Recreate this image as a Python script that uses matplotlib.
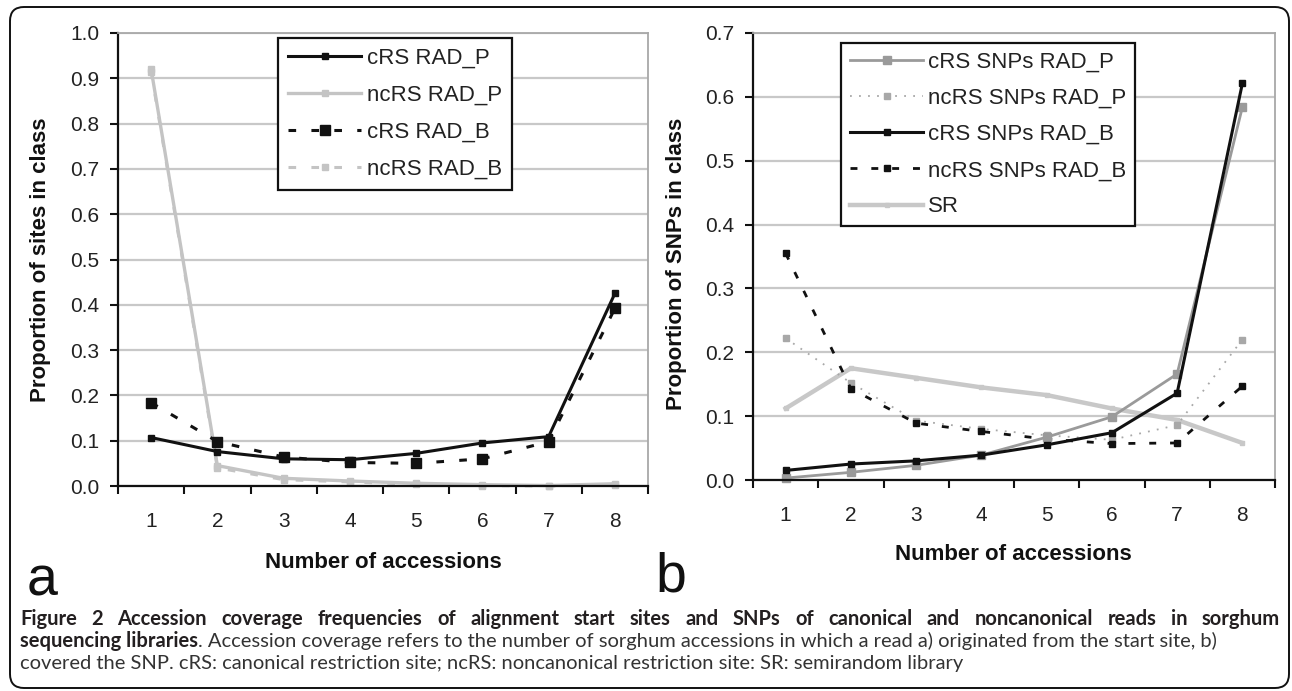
import matplotlib
matplotlib.use('Agg')
import matplotlib.pyplot as plt
import numpy as np
from matplotlib.patches import FancyBboxPatch

# ---------------- data ----------------
accessions = [1, 2, 3, 4, 5, 6, 7, 8]
x_tick_labels = ['1', '2', '3', '4', '5', '6', '7', '8']

# panel a : proportion of sites in class
crs_rad_p = [0.107, 0.076, 0.060, 0.058, 0.072, 0.095, 0.109, 0.425]
ncrs_rad_p = [0.920, 0.045, 0.017, 0.011, 0.006, 0.003, 0.001, 0.005]
crs_rad_b = [0.184, 0.098, 0.064, 0.052, 0.050, 0.060, 0.098, 0.392]
ncrs_rad_b = [0.915, 0.040, 0.014, 0.009, 0.004, 0.001, 0.000, 0.003]
labels_a = ['cRS RAD_P', 'ncRS RAD_P', 'cRS RAD_B', 'ncRS RAD_B']

# panel b : proportion of SNPs in class
crs_snp_rad_p = [0.003, 0.012, 0.023, 0.039, 0.067, 0.099, 0.166, 0.584]
ncrs_snp_rad_p = [0.222, 0.152, 0.093, 0.080, 0.070, 0.063, 0.086, 0.220]
crs_snp_rad_b = [0.015, 0.025, 0.030, 0.039, 0.055, 0.074, 0.136, 0.621]
ncrs_snp_rad_b = [0.355, 0.143, 0.089, 0.076, 0.064, 0.057, 0.058, 0.147]
sr = [0.112, 0.175, 0.160, 0.145, 0.133, 0.112, 0.094, 0.058]
labels_b = ['cRS SNPs RAD_P', 'ncRS SNPs RAD_P', 'cRS SNPs RAD_B',
            'ncRS SNPs RAD_B', 'SR']

yticks_a = [0.0, 0.1, 0.2, 0.3, 0.4, 0.5, 0.6, 0.7, 0.8, 0.9, 1.0]
yticks_b = [0.0, 0.1, 0.2, 0.3, 0.4, 0.5, 0.6, 0.7]

caption1 = ("Figure 2 Accession coverage frequencies of alignment start sites and "
            "SNPs of canonical and noncanonical reads in sorghum")
caption2_bold = "sequencing libraries"
caption2_reg = (". Accession coverage refers to the number of sorghum accessions in "
                "which a read a) originated from the start site, b)")
caption3 = ("covered the SNP. cRS: canonical restriction site; ncRS: noncanonical "
            "restriction site: SR: semirandom library")

# ---------------- figure ----------------
W, H = 1292, 691
fig = plt.figure(figsize=(W / 100, H / 100), dpi=100)
plt.rcParams['font.family'] = ['Liberation Sans', 'DejaVu Sans']


def fx(x):
    return x / W


def fy(y):
    return 1 - y / H


def setup_axes(ax, yticks):
    ax.set_xlim(0.5, 8.5)
    ax.set_ylim(yticks[0], yticks[-1])
    ax.set_xticks(accessions)
    ax.set_xticklabels(x_tick_labels)
    ax.set_xticks(np.arange(0.5, 9.0, 1.0), minor=True)
    ax.set_yticks(yticks)
    ax.set_yticklabels(['%.1f' % v for v in yticks])
    ax.tick_params(axis='x', which='major', length=0, pad=19,
                   labelsize=15, labelcolor='#222222')
    ax.tick_params(axis='x', which='minor', length=6, width=1.5,
                   direction='out', color='#111111')
    ax.tick_params(axis='y', which='major', length=5.5, width=1.5,
                   direction='out', pad=8, labelsize=15,
                   labelcolor='#222222', color='#111111')
    ax.yaxis.grid(True, color='#c8c8c8', linewidth=1.6)
    ax.set_axisbelow(True)
    for s in ['left', 'bottom']:
        ax.spines[s].set_color('#111111')
        ax.spines[s].set_linewidth(1.6)
    for s in ['top', 'right']:
        ax.spines[s].set_color('#a8a8a8')
        ax.spines[s].set_linewidth(1.3)


dash = (0, (2.5, 5.0))

# ---------------- panel a ----------------
axa = fig.add_axes([fx(118), fy(486), (648 - 118) / W, (486 - 33) / H])
setup_axes(axa, yticks_a)
ha = []
ha += axa.plot(accessions, ncrs_rad_b, color='#c4c4c4', lw=2.2, ls=dash,
               marker='s', ms=4.5, label=labels_a[3])
ha += axa.plot(accessions, ncrs_rad_p, color='#c4c4c4', lw=2.4, ls='-',
               marker='s', ms=4.5, label=labels_a[1])
ha += axa.plot(accessions, crs_rad_b, color='#111111', lw=2.2, ls=dash,
               marker='s', ms=7.5, label=labels_a[2])
ha += axa.plot(accessions, crs_rad_p, color='#111111', lw=2.2, ls='-',
               marker='s', ms=4.2, label=labels_a[0])
for l in ha:
    l.set_clip_on(False)
order_a = [3, 1, 2, 0]
leg_a = axa.legend([ha[i] for i in order_a], [labels_a[i] for i in [0, 1, 2, 3]],
                   loc='upper left', bbox_to_anchor=(fx(278), fy(38)),
                   bbox_transform=fig.transFigure, borderaxespad=0,
                   fontsize=16, frameon=True, fancybox=False, framealpha=1,
                   edgecolor='#111111', handlelength=3.3, handletextpad=0.25,
                   labelspacing=0.72, borderpad=0.45)
leg_a.get_frame().set_linewidth(1.6)
for t in leg_a.get_texts():
    t.set_color('#222222')

# ---------------- panel b ----------------
axb = fig.add_axes([fx(753), fy(480), (1275 - 753) / W, (480 - 33) / H])
setup_axes(axb, yticks_b)
hb = []
hb += axb.plot(accessions, sr, color='#c8c8c8', lw=3.2, ls='-',
               marker='s', ms=3.5, label=labels_b[4])
hb += axb.plot(accessions, ncrs_snp_rad_p, color='#a8a8a8', lw=1.3,
               ls=(0, (1, 4)), marker='s', ms=4.2, label=labels_b[1])
hb += axb.plot(accessions, ncrs_snp_rad_b, color='#111111', lw=2.0, ls=dash,
               marker='s', ms=4.2, label=labels_b[3])
hb += axb.plot(accessions, crs_snp_rad_p, color='#9a9a9a', lw=2.0, ls='-',
               marker='s', ms=6.0, label=labels_b[0])
hb += axb.plot(accessions, crs_snp_rad_b, color='#111111', lw=2.2, ls='-',
               marker='s', ms=4.2, label=labels_b[2])
for l in hb:
    l.set_clip_on(False)
order_b = [3, 1, 4, 2, 0]
leg_b = axb.legend([hb[i] for i in order_b], labels_b,
                   loc='upper left', bbox_to_anchor=(fx(841), fy(43)),
                   bbox_transform=fig.transFigure, borderaxespad=0,
                   fontsize=16, frameon=True, fancybox=False, framealpha=1,
                   edgecolor='#111111', handlelength=3.3, handletextpad=0.2,
                   labelspacing=0.68, borderpad=0.4)
leg_b.get_frame().set_linewidth(1.6)
for t in leg_b.get_texts():
    t.set_color('#222222')

# ---------------- axis labels ----------------
lab_kw = dict(fontsize=16, fontweight='bold', color='#111111')
fig.text(fx(41), fy(260), 'Proportion of sites in class', rotation=90,
         ha='center', va='center', **lab_kw)
fig.text(fx(676), fy(264), 'Proportion of SNPs in class', rotation=90,
         ha='center', va='center', **lab_kw)
fig.text(fx(383), fy(562), 'Number of accessions', ha='center', va='center',
         **lab_kw)
fig.text(fx(1013), fy(555), 'Number of accessions', ha='center', va='center',
         **lab_kw)

fig.text(fx(27), fy(595), 'a', fontsize=40, ha='left', va='baseline',
         color='#111111')
fig.text(fx(655), fy(592), 'b', fontsize=40, ha='left', va='baseline',
         color='#111111')

# ---------------- outer frame ----------------
frame = FancyBboxPatch((10, H - 688), 1279, 681,
                       boxstyle='round,pad=0,rounding_size=14',
                       transform=None, fill=False, edgecolor='#111111',
                       linewidth=1.4)
fig.add_artist(frame)

# ---------------- caption ----------------
cap_font = ['Lato', 'DejaVu Sans']
fig.canvas.draw()
r = fig.canvas.get_renderer()


def twidth(t):
    return t.get_window_extent(r).width


# fit size so that line 2 spans ~1206 px
fs = 14.0
for _ in range(3):
    tb = fig.text(0, 0, caption2_bold, fontsize=fs, fontweight='bold',
                  family=cap_font)
    tr = fig.text(0, 0, caption2_reg, fontsize=fs, family=cap_font)
    total = twidth(tb) + twidth(tr)
    tb.remove()
    tr.remove()
    fs = fs * 1206.0 / total

# line 1 : justified bold words
words = caption1.split(' ')
objs = [fig.text(0, fy(625), w, fontsize=fs, fontweight='bold',
                 family=cap_font, color='#231f20', va='baseline')
        for w in words]
wid = [twidth(o) for o in objs]
gap = (1280 - 20 - sum(wid)) / (len(words) - 1)
xpos = 20.0
for o, w in zip(objs, wid):
    o.set_x(fx(xpos))
    xpos += w + gap

# line 2
tb = fig.text(fx(20), fy(647), caption2_bold, fontsize=fs, fontweight='bold',
              family=cap_font, color='#231f20', va='baseline')
wb = twidth(tb)
fig.text(fx(20 + wb), fy(647), caption2_reg, fontsize=fs, family=cap_font,
         color='#333333', va='baseline')
# line 3
fig.text(fx(20), fy(669), caption3, fontsize=fs, family=cap_font,
         color='#333333', va='baseline')

fig.savefig('out.png', dpi=100)
